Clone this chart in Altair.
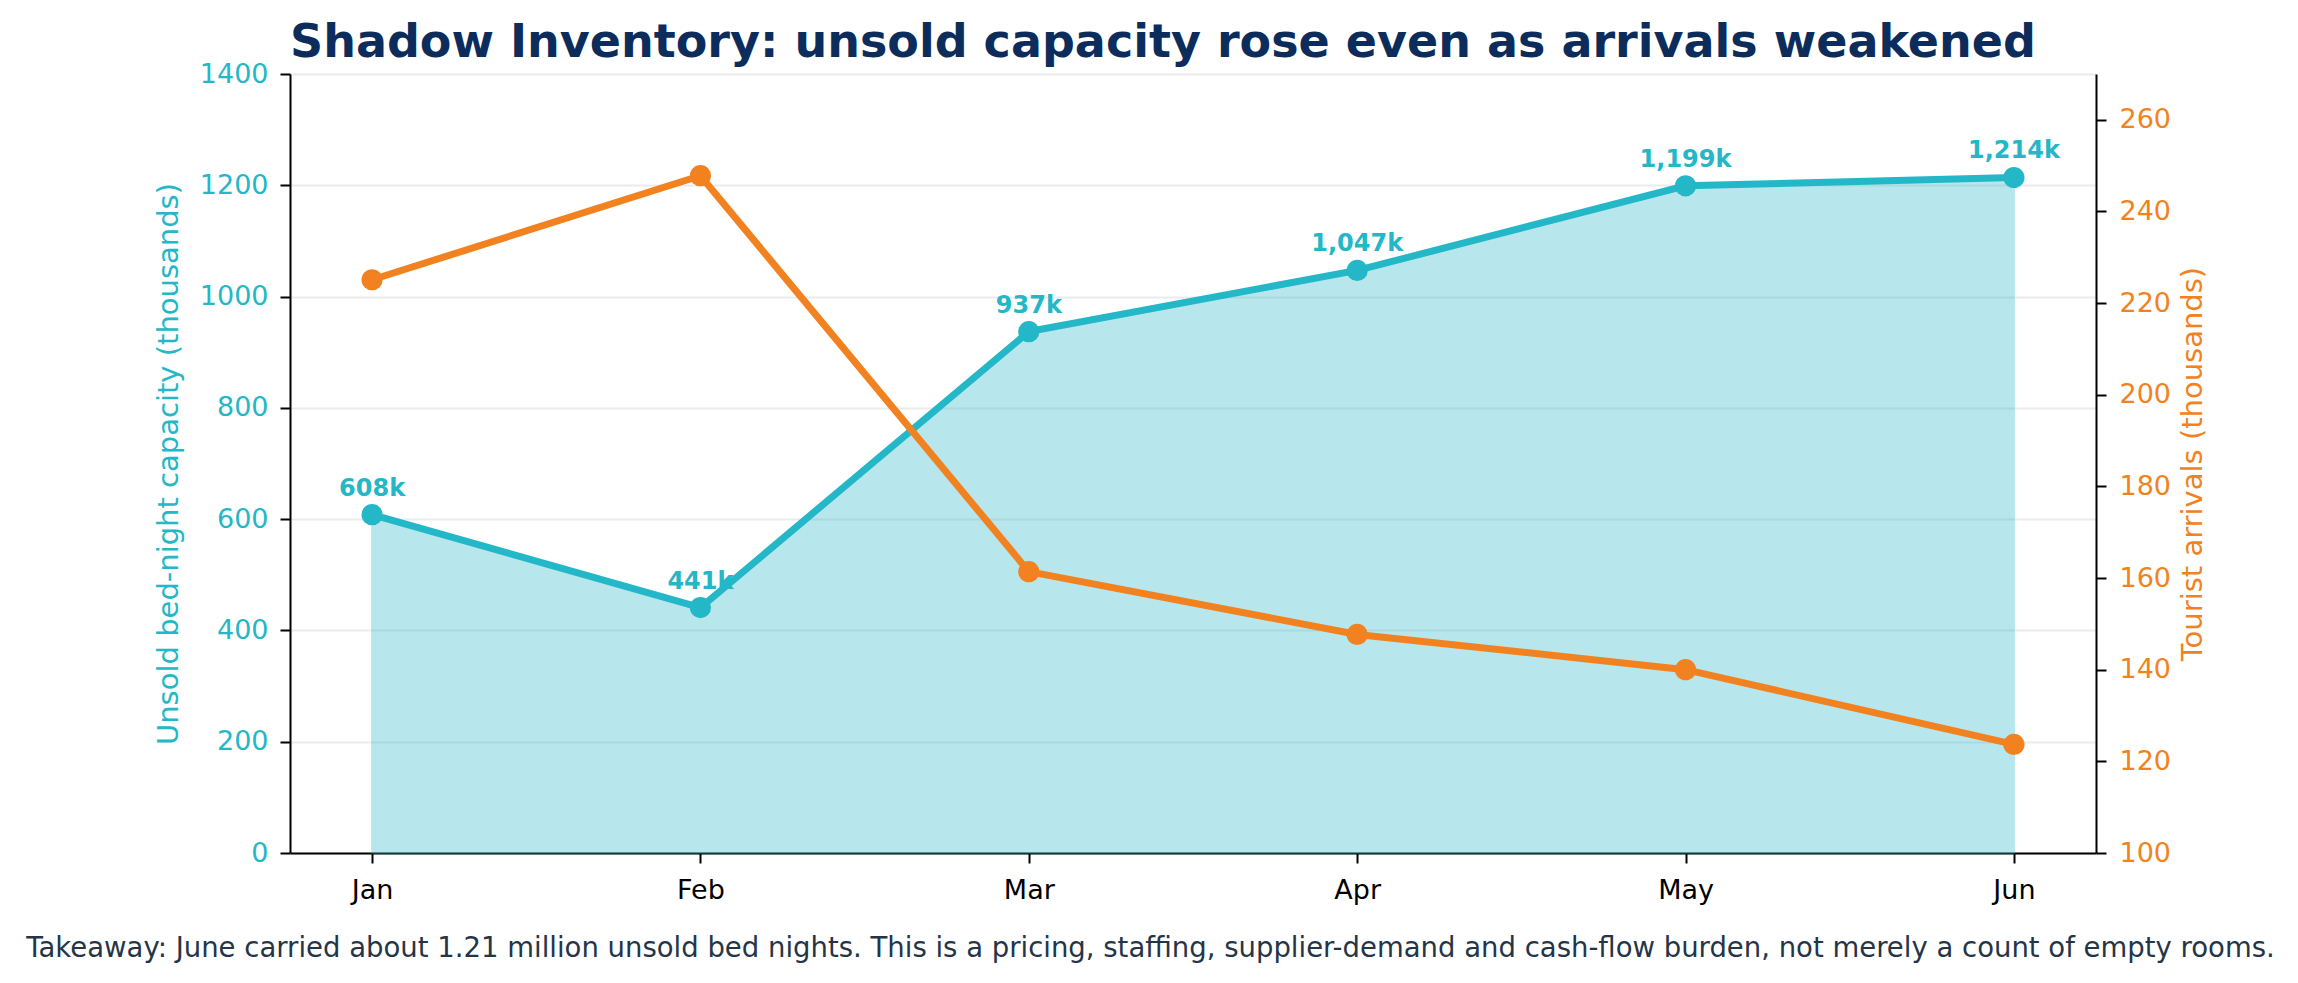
import pandas as pd
import altair as alt

# colours
TEAL = "#23b7c7"
ORANGE = "#f28220"
NAVY = "#0c2d5c"
SLATE = "#253548"
GRID = "#ebebeb"
FONT = "DejaVu Sans"

months = ["Jan", "Feb", "Mar", "Apr", "May", "Jun"]
unsold_k = [608, 441, 937, 1047, 1199, 1214]        # unsold bed-nights (thousands)
arrivals_k = [225.1, 247.8, 161.4, 147.7, 140.0, 123.7]  # tourist arrivals (thousands)

left_ticks = [0, 200, 400, 600, 800, 1000, 1200, 1400]
right_ticks = [100, 120, 140, 160, 180, 200, 220, 240, 260]

TITLE = "Shadow Inventory: unsold capacity rose even as arrivals weakened"
TAKEAWAY = ("Takeaway: June carried about 1.21 million unsold bed nights. This is a pricing, "
            "staffing, supplier-demand and cash-flow burden, not merely a count of empty rooms.")

df = pd.DataFrame({"month": months, "unsold": unsold_k, "arrivals": arrivals_k})

x = alt.X("month:O", sort=months,
          scale=alt.Scale(padding=0.25),
          axis=alt.Axis(title=TAKEAWAY, labelAngle=0, labelColor="black",
                        labelFontSize=27, labelPadding=14,
                        titleFontSize=27.5, titleFontWeight="normal", titleColor=SLATE,
                        titleX=860, titleY=103, titleAlign="center",
                        titleBaseline="alphabetic"))

y_left = alt.Y("unsold:Q",
               scale=alt.Scale(domain=[0, 1400], nice=False),
               axis=alt.Axis(title="Unsold bed-night capacity (thousands)", orient="left",
                             values=left_ticks, format="d", grid=True,
                             labelColor=TEAL, titleColor=TEAL, labelFontSize=27,
                             titleFontSize=29, titleFontWeight="normal",
                             labelPadding=12, titlePadding=16))

y_right = alt.Y("arrivals:Q",
                scale=alt.Scale(domain=[100, 270], nice=False),
                axis=alt.Axis(title="Tourist arrivals (thousands)", orient="right",
                              values=right_ticks, format="d", grid=False,
                              labelColor=ORANGE, titleColor=ORANGE, labelFontSize=27,
                              titleFontSize=29, titleFontWeight="normal", titleAngle=270,
                              titleBaseline="top", labelPadding=13, titlePadding=8))

base = alt.Chart(df)

area = base.mark_area(color=TEAL, opacity=0.32, stroke=TEAL, strokeWidth=2).encode(x=x, y=y_left)
teal_line = base.mark_line(color=TEAL, strokeWidth=7).encode(x=x, y=y_left)
teal_pts = base.mark_point(color=TEAL, filled=True, opacity=1, size=450).encode(x=x, y=y_left)
labels = base.transform_calculate(
    label="format(datum.unsold, ',') + 'k'"
).mark_text(color=TEAL, fontSize=24, fontWeight="bold", dy=-26, baseline="middle").encode(
    x=x, y=y_left, text="label:N")

teal = alt.layer(area, labels, teal_line, teal_pts)

orange_line = base.mark_line(color=ORANGE, strokeWidth=7).encode(x=x, y=y_right)
orange_pts = base.mark_point(color=ORANGE, filled=True, opacity=1, size=450).encode(x=x, y=y_right)
orange = alt.layer(orange_line, orange_pts)

chart = alt.layer(teal, orange).resolve_scale(y="independent").properties(
    width=1806, height=779,
    autosize=alt.AutoSizeParams(type="none"),
    padding={"left": 282, "top": 66, "right": 194, "bottom": 113},
    title=alt.Title(TITLE, anchor="start", frame="group", fontSize=46, fontWeight="bold",
                    color=NAVY, font=FONT, offset=10, dy=17),
).configure(font=FONT).configure_view(stroke=None).configure_axis(
    domainColor="black", domainWidth=2, tickColor="black", tickWidth=2, tickSize=10,
    gridColor=GRID, gridWidth=2, labelFont=FONT, titleFont=FONT,
)

chart.save("out.html", embed_options={"renderer": "svg", "actions": False})
